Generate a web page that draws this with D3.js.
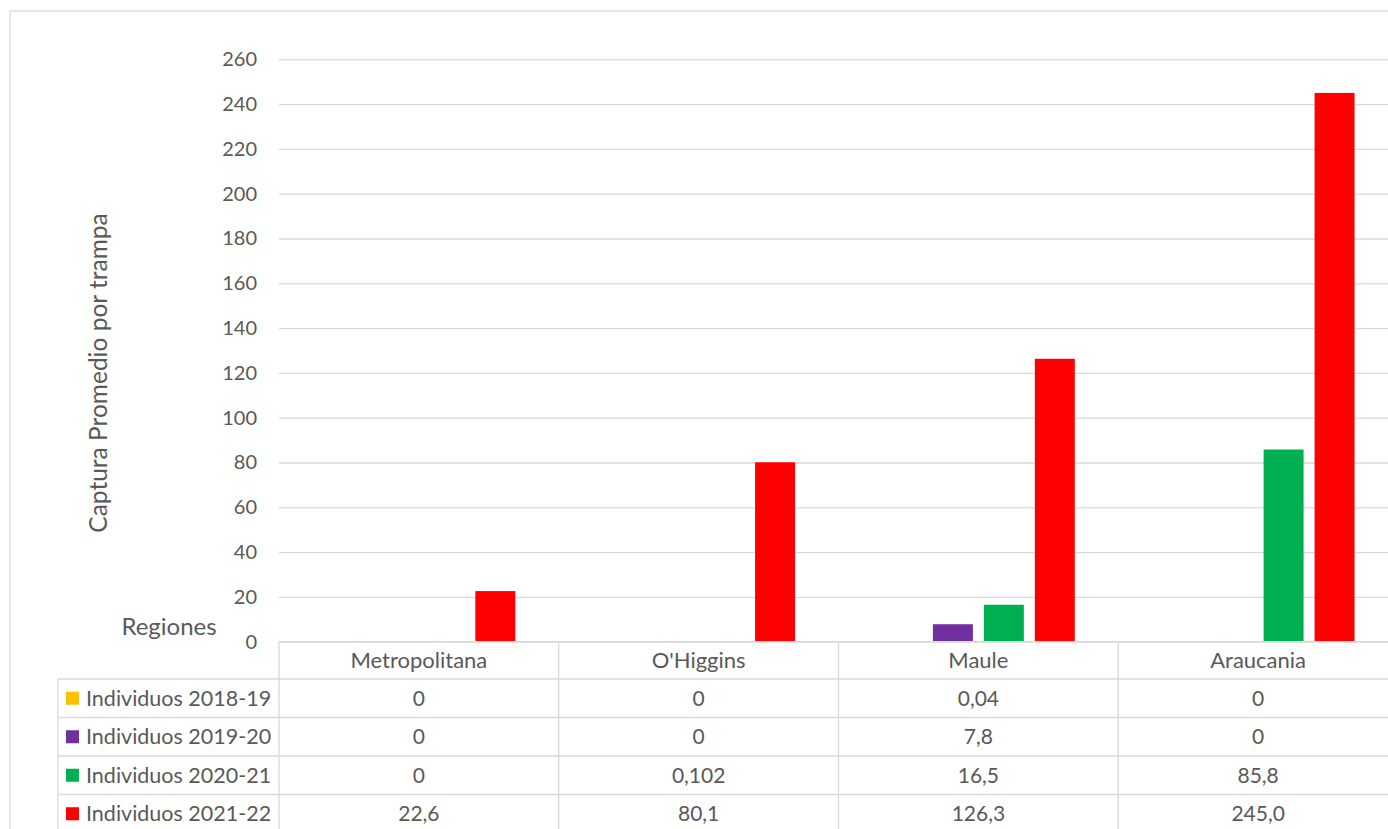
<!DOCTYPE html>
<html>
<head>
<meta charset="utf-8">
<script src="https://cdn.jsdelivr.net/npm/d3@7"></script>
<style>
  html, body { margin: 0; padding: 0; background: #fff; overflow: hidden; }
  svg { display: block; font-family: Lato, "Open Sans", sans-serif; }
</style>
</head>
<body>
<svg id="chart" width="1388" height="829"></svg>
<script>
// ---- Data ----
const regions = ["Metropolitana", "O'Higgins", "Maule", "Araucania"];
const seriesNames = ["Individuos 2018-19", "Individuos 2019-20", "Individuos 2020-21", "Individuos 2021-22"];
const seriesColors = ["#FFC000", "#7030A0", "#00B050", "#FF0000"];
const labels2018_19 = ["0", "0", "0,04", "0"];
const labels2019_20 = ["0", "0", "7,8", "0"];
const labels2020_21 = ["0", "0,102", "16,5", "85,8"];
const labels2021_22 = ["22,6", "80,1", "126,3", "245,0"];
const yTicks = [0, 20, 40, 60, 80, 100, 120, 140, 160, 180, 200, 220, 240, 260];
const yTitle = "Captura Promedio por trampa";
const xTitle = "Regiones";

const seriesLabels = [labels2018_19, labels2019_20, labels2020_21, labels2021_22];
const parseNum = s => +s.replace(",", ".");
const series = seriesNames.map((name, i) => ({
  name, color: seriesColors[i], labels: seriesLabels[i],
  values: seriesLabels[i].map(parseNum)
}));

// ---- Layout ----
const svg = d3.select("#chart");
const plot = { left: 279, right: 1398, top: 59.3, bottom: 641.7 };
const legendLeft = 58;
const rowH = 38.5;
const textColor = "#595959";
const gridColor = "#D9D9D9";

// outer chart border
svg.append("rect")
  .attr("x", 10).attr("y", 11)
  .attr("width", 1500).attr("height", 1000)
  .attr("fill", "none").attr("stroke", gridColor).attr("stroke-width", 1.3);

const x0 = d3.scaleBand().domain(regions).range([plot.left, plot.right]).padding(0);
const x1 = d3.scaleBand().domain(seriesNames).range([0, x0.bandwidth()])
  .paddingInner(11 / 51).paddingOuter(43.5 / 51);
const y = d3.scaleLinear().domain([0, 260]).range([plot.bottom, plot.top]);

// gridlines + y ticks via axis
const yAxis = d3.axisLeft(y).tickValues(yTicks).tickSize(-(plot.right - plot.left)).tickPadding(22).tickFormat(d3.format("d"));
const gy = svg.append("g").attr("transform", `translate(${plot.left},0)`).call(yAxis);
gy.select(".domain").remove();
gy.selectAll(".tick line").attr("stroke", gridColor).attr("stroke-width", 1.3);
gy.selectAll(".tick text").attr("fill", textColor).style("font-size", "20px").style("font-family", "Lato, sans-serif");

// bars
const groups = svg.append("g").selectAll("g")
  .data(regions).join("g")
  .attr("transform", d => `translate(${x0(d)},0)`);
groups.selectAll("rect")
  .data((r, ri) => series.map(s => ({ s, v: s.values[ri] })))
  .join("rect")
  .attr("x", d => x1(d.s.name))
  .attr("width", x1.bandwidth())
  .attr("y", d => y(d.v))
  .attr("height", d => y(0) - y(d.v))
  .attr("fill", d => d.s.color);

// ---- Data table ----
const table = svg.append("g");
const headerTop = plot.bottom;
const headerBottom = headerTop + 37.3;
// header row verticals
regions.forEach(r => {
  table.append("line")
    .attr("x1", x0(r)).attr("x2", x0(r))
    .attr("y1", headerTop).attr("y2", 829 + 10)
    .attr("stroke", gridColor).attr("stroke-width", 1.3);
});
// header horizontal lines
table.append("line").attr("x1", plot.left).attr("x2", plot.right)
  .attr("y1", headerTop).attr("y2", headerTop).attr("stroke", gridColor).attr("stroke-width", 1.3);
table.append("line").attr("x1", legendLeft).attr("x2", plot.right)
  .attr("y1", headerBottom).attr("y2", headerBottom).attr("stroke", gridColor).attr("stroke-width", 1.3);
// left border of legend column
table.append("line").attr("x1", legendLeft).attr("x2", legendLeft)
  .attr("y1", headerBottom).attr("y2", 840).attr("stroke", gridColor).attr("stroke-width", 1.3);

// header labels
table.selectAll("text.hdr").data(regions).join("text")
  .attr("class", "hdr")
  .attr("x", d => x0(d) + x0.bandwidth() / 2)
  .attr("y", (headerTop + headerBottom) / 2)
  .attr("dy", "0.35em")
  .attr("text-anchor", "middle")
  .attr("fill", textColor).style("font-size", "22px")
  .text(d => d);

// rows
series.forEach((s, i) => {
  const top = headerBottom + i * rowH;
  const cy = top + rowH / 2;
  if (i > 0) {
    table.append("line").attr("x1", legendLeft).attr("x2", plot.right)
      .attr("y1", top).attr("y2", top).attr("stroke", gridColor).attr("stroke-width", 1.3);
  }
  table.append("rect").attr("x", 66).attr("y", cy - 6.5).attr("width", 13).attr("height", 13).attr("fill", s.color);
  table.append("text").attr("x", 86).attr("y", cy).attr("dy", "0.35em")
    .attr("fill", textColor).style("font-size", "21.5px").text(s.name);
  regions.forEach((r, ri) => {
    table.append("text")
      .attr("x", x0(r) + x0.bandwidth() / 2).attr("y", cy).attr("dy", "0.35em")
      .attr("text-anchor", "middle").attr("fill", textColor).style("font-size", "21px")
      .text(s.labels[ri]);
  });
});

// titles
svg.append("text")
  .attr("transform", `translate(98,${373}) rotate(-90)`)
  .attr("text-anchor", "middle").attr("dy", "0.35em")
  .attr("fill", textColor).style("font-size", "24.5px")
  .text(yTitle);
svg.append("text")
  .attr("x", 169).attr("y", 627).attr("dy", "0.35em")
  .attr("text-anchor", "middle")
  .attr("fill", textColor).style("font-size", "24px")
  .text(xTitle);
</script>
</body>
</html>
